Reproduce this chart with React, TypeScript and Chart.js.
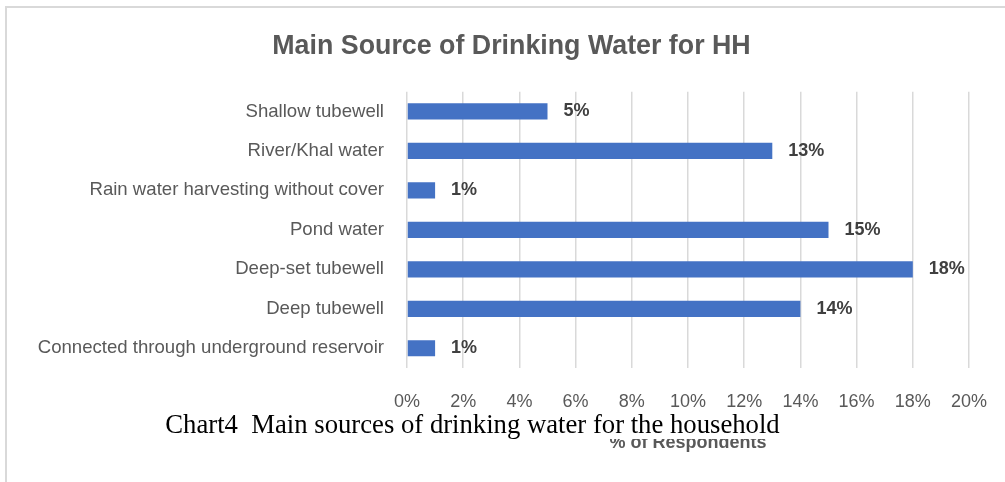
import React, { useEffect, useRef } from "react";
import { Chart, registerables } from "chart.js";

Chart.register(...registerables);

const categories = [
  "Shallow tubewell",
  "River/Khal water",
  "Rain water harvesting without cover",
  "Pond water",
  "Deep-set tubewell",
  "Deep tubewell",
  "Connected through underground reservoir",
];
const percentValues = [5, 13, 1, 15, 18, 14, 1];
const xTicks = [0, 2, 4, 6, 8, 10, 12, 14, 16, 18, 20];

const chartTitle = "Main Source of Drinking Water for HH";
const axisTitle = "% of Respondents";
const caption = "Chart4\u00a0 Main sources of drinking water for the household";

const SANS = '"Liberation Sans", Arial, sans-serif';
const SERIF = '"Liberation Serif", "Times New Roman", serif';

const W = 1005;
const H = 482;
const PAD_LEFT = 18;
const PLOT_LEFT = 407;
const PLOT_RIGHT_GAP = 36;
const PLOT_BOTTOM = 368;

const valueLabels = {
  id: "valueLabels",
  afterDatasetsDraw(chart: any) {
    const ctx = chart.ctx;
    const meta = chart.getDatasetMeta(0);
    ctx.save();
    ctx.font = `bold 18px ${SANS}`;
    ctx.fillStyle = "#404040";
    ctx.textAlign = "left";
    ctx.textBaseline = "middle";
    meta.data.forEach((bar: any, i: number) => {
      ctx.fillText(`${percentValues[i]}%`, bar.x + 16, bar.y);
    });
    ctx.restore();
  },
};

export default function App() {
  const canvasRef = useRef<HTMLCanvasElement | null>(null);

  useEffect(() => {
    document.body.style.margin = "0";
    const canvas = canvasRef.current;
    if (!canvas) return;
    const chart = new Chart(canvas, {
      type: "bar",
      data: {
        labels: categories,
        datasets: [
          {
            data: percentValues,
            backgroundColor: "#4472C4",
            borderWidth: 0,
            categoryPercentage: 1,
            barPercentage: 0.41,
          },
        ],
      },
      plugins: [valueLabels],
      options: {
        indexAxis: "y",
        animation: false,
        responsive: false,
        maintainAspectRatio: false,
        layout: { padding: { left: PAD_LEFT, right: 0, top: 0, bottom: 0 } },
        plugins: {
          legend: { display: false },
          tooltip: { enabled: false },
          title: {
            display: true,
            text: chartTitle,
            color: "#595959",
            font: { family: SANS, size: 26.8, weight: "bold" },
            padding: { top: 31, bottom: 28.5 },
          },
        },
        scales: {
          x: {
            min: 0,
            max: 20,
            afterBuildTicks(scale: any) {
              scale.ticks = xTicks.map((v) => ({ value: v }));
            },
            afterFit(scale: any) {
              scale.height = H - PLOT_BOTTOM;
              scale.paddingLeft = 0;
              scale.paddingRight = PLOT_RIGHT_GAP;
            },
            grid: {
              color: "#d9d9d9",
              lineWidth: 1.5,
              drawTicks: false,
            },
            border: { display: false },
            ticks: {
              color: "#595959",
              font: { family: SANS, size: 18 },
              padding: 23,
              callback: (v: any) => `${v}%`,
            },
            title: {
              display: true,
              text: axisTitle,
              color: "#595959",
              font: { family: SANS, size: 18, weight: "bold" },
              padding: { top: 0, bottom: 28 },
            },
          },
          y: {
            afterFit(scale: any) {
              scale.width = PLOT_LEFT - PAD_LEFT;
            },
            grid: { display: false, drawTicks: false },
            border: { display: false },
            ticks: {
              color: "#595959",
              font: { family: SANS, size: 18.6 },
              padding: 23,
            },
          },
        },
      },
    });
    return () => chart.destroy();
  }, []);

  return (
    <div
      style={{
        position: "absolute",
        left: 0,
        top: 0,
        width: W,
        height: H,
        background: "#ffffff",
        overflow: "hidden",
      }}
    >
      <div
        style={{
          position: "absolute",
          left: 5,
          top: 6,
          width: W,
          height: H,
          borderTop: "2px solid #d9d9d9",
          borderLeft: "2px solid #d9d9d9",
        }}
      />
      <canvas
        ref={canvasRef}
        width={W}
        height={H}
        style={{ position: "absolute", left: 0, top: 0, width: W, height: H }}
      />
      <div
        style={{
          position: "absolute",
          left: 150,
          top: 410,
          width: 645,
          height: 28.5,
          lineHeight: "28.5px",
          background: "#ffffff",
          color: "#000000",
          fontFamily: SERIF,
          fontSize: 26.7,
          textAlign: "center",
          whiteSpace: "pre",
        }}
      >
        {caption}
      </div>
    </div>
  );
}
